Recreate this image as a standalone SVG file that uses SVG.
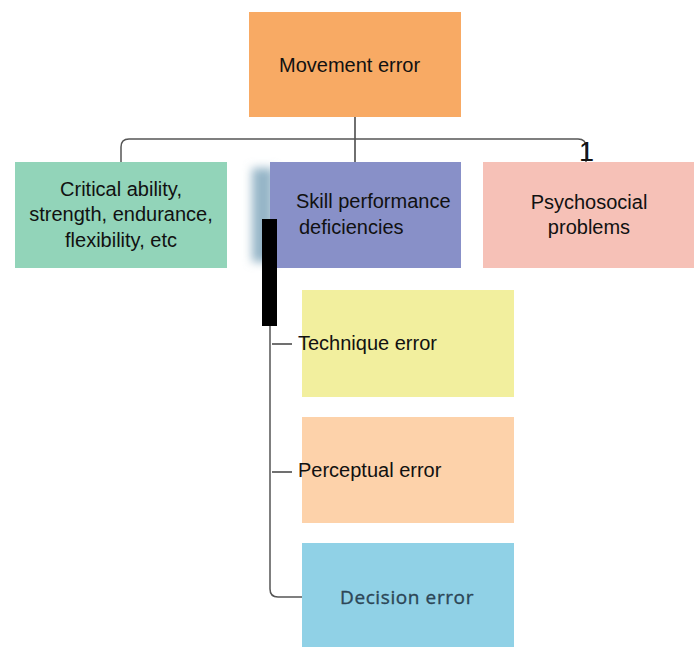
<svg xmlns="http://www.w3.org/2000/svg" width="694" height="647" viewBox="0 0 694 647">
  <style>
    .lbl { font-family: "Liberation Sans", Arial, sans-serif; font-size: 20px; fill: #111; }
    .mid { text-anchor: middle; }
    .conn { fill: none; stroke: #555; stroke-width: 1.5; }
    .stem { fill: none; stroke: #222; stroke-width: 1.3; }
  </style>
  <defs>
    <filter id="soft" x="-1" y="-0.3" width="3" height="1.6">
      <feGaussianBlur stdDeviation="5"/>
    </filter>
  </defs>
  <rect width="694" height="647" fill="#ffffff"/>

  <!-- connectors -->
  <g id="connectors">
    <line class="stem" x1="355" y1="117" x2="355" y2="162"/>
    <path class="conn" d="M121,162 V147 Q121,139 129,139 H578 Q586,139 586,147 V162"/>
    <path class="conn" d="M270,326 V589 Q270,597 278,597 H302"/>
    <line class="stem" x1="272" y1="344" x2="292" y2="344"/>
    <line class="stem" x1="272" y1="472" x2="292" y2="472"/>
  </g>

  <g id="movement-error">
    <rect x="249" y="12" width="212" height="105" fill="#F8AA64"/>
    <text class="lbl" x="279" y="72">Movement error</text>
  </g>

  <g id="critical-ability">
    <rect x="15" y="162" width="212" height="106" fill="#92D4B9"/>
    <text class="lbl mid" x="121" y="196">Critical ability,</text>
    <text class="lbl mid" x="121" y="221">strength, endurance,</text>
    <text class="lbl mid" x="121" y="247">flexibility, etc</text>
  </g>

  <g id="skill-performance">
    <rect x="252" y="168" width="22" height="94" fill="#96B6C8" filter="url(#soft)"/>
    <rect x="270" y="162" width="191" height="106" fill="#8890C8"/>
    <text class="lbl" x="296" y="208">Skill performance</text>
    <text class="lbl" x="299" y="234">deficiencies</text>
  </g>

  <g id="psychosocial">
    <rect x="483" y="162" width="211" height="106" fill="#F6C1B7"/>
    <text class="lbl mid" x="589" y="209">Psychosocial</text>
    <text class="lbl mid" x="589" y="234">problems</text>
  </g>

  <text x="579" y="161" font-family="Liberation Sans, Arial, sans-serif" font-size="27" fill="#111">1</text>

  <rect x="262" y="219" width="15" height="107" fill="#000"/>

  <g id="technique-error">
    <rect x="302" y="290" width="212" height="107" fill="#F2EF9E"/>
    <text class="lbl" x="298" y="350">Technique error</text>
  </g>

  <g id="perceptual-error">
    <rect x="302" y="417" width="212" height="106" fill="#FDD2AA"/>
    <text class="lbl" x="298" y="477">Perceptual error</text>
  </g>

  <g id="decision-error">
    <rect x="302" y="543" width="212" height="104" fill="#90D1E6"/>
    <text x="340" y="604" font-family="'Open Sans', 'DejaVu Sans', sans-serif" font-size="19" letter-spacing="0.6" fill="#2C4656" stroke="#2C4656" stroke-width="0.35">Decision error</text>
  </g>
</svg>
